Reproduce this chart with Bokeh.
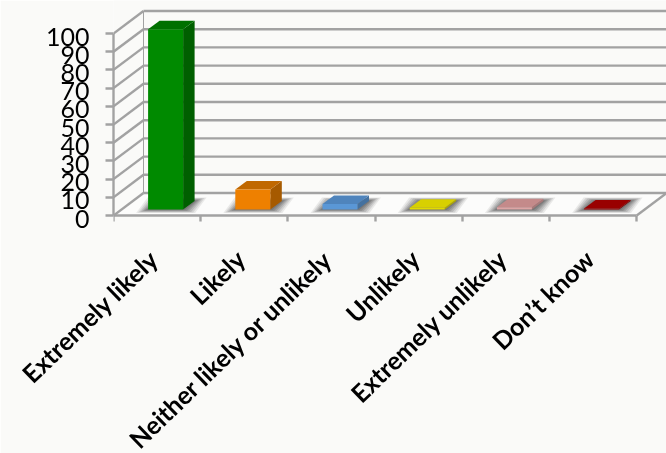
from bokeh.plotting import figure
from bokeh.models import LinearAxis, FixedTicker, Range1d, Title
from bokeh.embed import file_html
from bokeh.resources import INLINE

categories = ["Extremely likely", "Likely", "Neither likely or unlikely", "Unlikely", "Extremely unlikely", "Don\u2019t know"]
values = [99, 11, 3, 1, 1.2, 0.5]
front_colors = ["#008A00", "#EE8000", "#5A97D6", "#E2DA00", "#DDA5A5", "#A00000"]
top_colors = ["#007000", "#C06800", "#4F84BC", "#D8D000", "#C48A8A", "#990000"]
side_colors = ["#005F00", "#A65A00", "#44719F", "#B0A800", "#A87878", "#800000"]
y_ticks = list(range(0, 101, 10))

BG = "#FAFAF8"
GRID = "#A2A2A2"
PX_X, PX_Y = 87.2, 1.82          # pixels per category / per 1 value unit
DX, DY = 30 / PX_X, 22.5 / PX_Y  # wall depth in data units
X_MAX = 553 / PX_X
Y_MAX = 215 / PX_Y
Y_MIN = -6 / PX_Y                # frame runs a little below the zero line
LABEL_DROP = 3 / PX_Y            # tick labels sit slightly below their ticks

p = figure(frame_width=553, frame_height=221, output_backend="svg", toolbar_location=None,
           x_range=Range1d(0, X_MAX), y_range=Range1d(Y_MIN, Y_MAX),
           x_axis_location=None, y_axis_location=None, min_border=0,
           min_border_left=113, min_border_bottom=232, background_fill_color=BG, border_fill_color=BG)
p.extra_y_ranges = {"labels": Range1d(Y_MIN + LABEL_DROP, Y_MAX + LABEL_DROP)}
p.styles = {"position": "fixed", "left": "0px", "top": "0px"}
p.grid.visible = False
p.outline_line_color = None

# floor and walls
p.patch([0, 6, 6 + DX, DX], [0, 0, DY, DY], fill_color="#FCFCFB", line_color=None)
for v in y_ticks:
    p.line([0, DX], [v, v + DY], line_color=GRID, line_width=2.4)
    p.line([DX, 6 + DX], [v + DY, v + DY], line_color=GRID, line_width=2.4)
p.line([DX, DX], [DY, 100 + DY], line_color=GRID, line_width=1)
p.line([6, 6 + DX], [0, DY], line_color=GRID, line_width=2.4)

# bars
bar_w = 35 / PX_X
off_x = 8.5 / PX_X              # shift of the bar face into the floor
off_y = 6 / PX_Y
dep_x = 11.5 / PX_X
dep_y = 8.5 / PX_Y
for i, v in enumerate(values):
    x0 = i + 0.5 + off_x - bar_w / 2
    x1 = x0 + bar_w
    y0 = off_y
    y1 = off_y + v
    # blurred shadow on the floor
    for grow, alpha in [(12, 0.1), (10, 0.13), (8, 0.16), (6, 0.2), (4, 0.22), (2, 0.24)]:
        gx = grow / PX_X
        gy = grow * 0.3 / PX_Y
        p.patch([x0 - gx, x1 + gx, x1 + dep_x + gx, x0 + dep_x - gx],
                [y0 - gy, y0 - gy, y0 + dep_y + gy, y0 + dep_y + gy],
                fill_color="#404040", fill_alpha=alpha, line_color=None)
    p.patch([x1, x1 + dep_x, x1 + dep_x, x1], [y0, y0 + dep_y, y1 + dep_y, y1],
            fill_color=side_colors[i], line_color=None)
    p.patch([x0, x1, x1 + dep_x, x0 + dep_x], [y1, y1, y1 + dep_y, y1 + dep_y],
            fill_color=top_colors[i], line_color=None)
    p.quad(left=x0, right=x1, bottom=y0, top=y1, fill_color=front_colors[i], line_color=None)

# real axes
yax = LinearAxis(ticker=FixedTicker(ticks=y_ticks), bounds=(0, 100),
                 major_label_overrides={t: "" for t in y_ticks})
yax.axis_line_color = GRID
yax.axis_line_width = 2.4
yax.major_tick_line_color = GRID
yax.major_tick_line_width = 2.4
yax.major_tick_in = 0
yax.major_tick_out = 8
yax.minor_tick_line_color = None
yax.major_label_standoff = 0
p.add_layout(yax, "left")

ylab = LinearAxis(y_range_name="labels", ticker=FixedTicker(ticks=y_ticks))
ylab.axis_line_color = None
ylab.major_tick_line_color = None
ylab.minor_tick_line_color = None
ylab.major_label_text_font = "Lato"
ylab.major_label_text_font_size = "25px"
ylab.major_label_text_color = "#000000"
ylab.major_label_standoff = 10
p.add_layout(ylab, "left")

tick_pos = list(range(0, 7))
xticks = LinearAxis(ticker=FixedTicker(ticks=tick_pos), bounds=(0, 6), fixed_location=0,
                    major_label_overrides={t: "" for t in tick_pos})
xticks.axis_line_color = GRID
xticks.axis_line_width = 2.4
xticks.major_tick_line_color = GRID
xticks.major_tick_line_width = 2.4
xticks.major_tick_in = 0
xticks.major_tick_out = 8
xticks.minor_tick_line_color = None
xticks.major_label_standoff = 0
p.add_layout(xticks, "below")

centers = [i + 0.5 - 4 / PX_X for i in range(6)]
xlab = LinearAxis(ticker=FixedTicker(ticks=centers),
                  major_label_overrides={c: n for c, n in zip(centers, categories)})
xlab.axis_line_color = None
xlab.major_tick_line_color = None
xlab.minor_tick_line_color = None
xlab.major_label_orientation = 0.77
xlab.major_label_text_font = "Lato"
xlab.major_label_text_font_style = "bold"
xlab.major_label_text_font_size = "25px"
xlab.major_label_text_color = "#000000"
xlab.major_label_standoff = 27
p.add_layout(xlab, "below")

note = Title(text="to\u201d", align="left", offset=-108, standoff=-28,
             text_font="Lato", text_font_style="bold italic", text_font_size="34px",
             text_color="#000000")
p.add_layout(note, "below")

open("out.html", "w").write(file_html(p, INLINE))
